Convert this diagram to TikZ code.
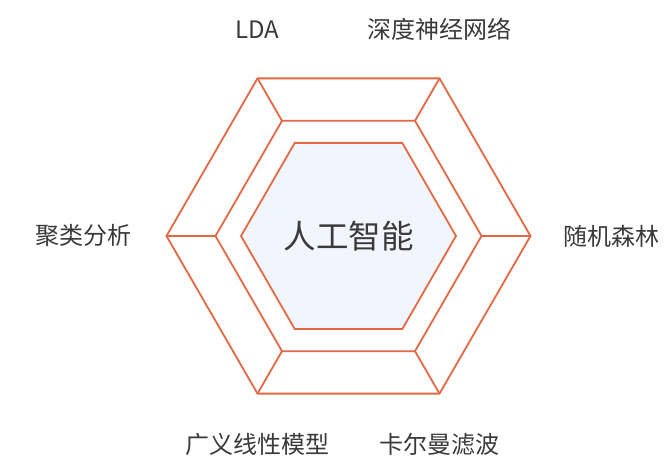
\documentclass[tikz,border=0pt]{standalone}
\usepackage{fontspec}
\setmainfont{Noto Sans CJK SC}
\usetikzlibrary{calc,positioning}
\definecolor{hexline}{RGB}{228,104,68}
\definecolor{hexfill}{RGB}{240,246,251}
\definecolor{txtgray}{RGB}{58,58,58}
\tikzset{
  hexedge/.style={draw=hexline,line width=1.8pt,line join=miter},
  lbl/.style={text=txtgray,font=\fontsize{24}{28}\selectfont,inner sep=0pt},
  core/.style={text=txtgray,font=\fontsize{32.5}{38}\selectfont,inner sep=0pt}
}
\begin{document}
\begin{tikzpicture}[x=1pt,y=1pt]
\useasboundingbox (0,0) rectangle (665,462);
\coordinate (c) at (348.5,226);

% corners of the three rings
\foreach \a in {0,60,...,300} {
  \coordinate (o\a) at ($(c)+(\a:182)$);
  \coordinate (m\a) at ($(c)+(\a:133)$);
  \coordinate (i\a) at ($(c)+(\a:107.5)$);
}

\draw[hexedge,fill=hexfill] (i0) -- (i60) -- (i120) -- (i180) -- (i240) -- (i300) -- cycle;
\draw[hexedge] (m0) -- (m60) -- (m120) -- (m180) -- (m240) -- (m300) -- cycle;
\draw[hexedge] (o0) -- (o60) -- (o120) -- (o180) -- (o240) -- (o300) -- cycle;
\foreach \a in {0,60,...,300}
  \draw[hexedge] (o\a) -- (m\a);

\node[core] (ai) at (c) {人工智能};

% method names round the rings
\foreach \a/\dx/\dy/\name in {0/81/0/{随机森林},60/0/49/{深度神经网络},120/0/49/{LDA},
    180/-83/0/{聚类分析},240/0/-51/{广义线性模型},300/0/-51/{卡尔曼滤波}}
  \node[lbl] (l\a) at ($(o\a)+(\dx,\dy)$) {\name};

\end{tikzpicture}
\end{document}
